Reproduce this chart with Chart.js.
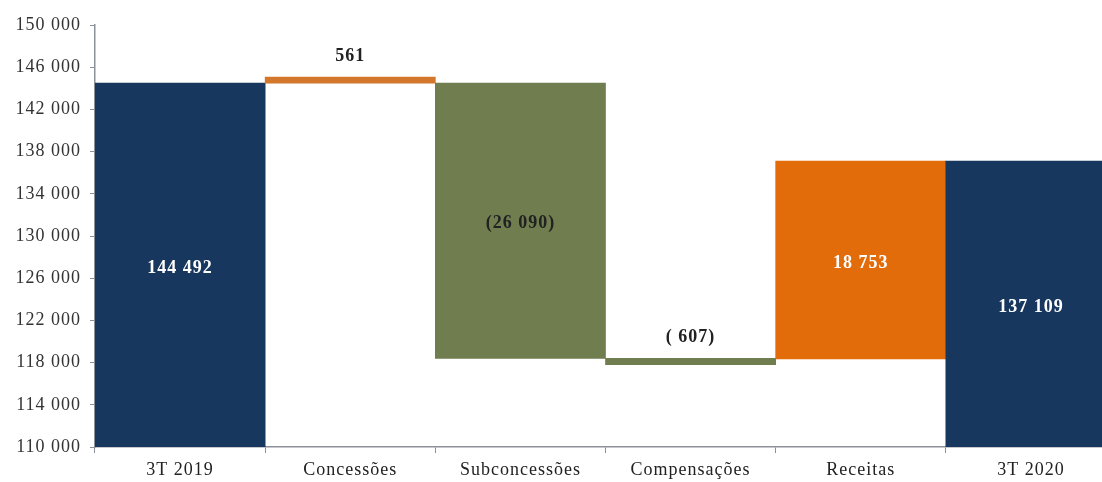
<!DOCTYPE html>
<html>
<head>
<meta charset="utf-8">
<script src="https://cdn.jsdelivr.net/npm/chart.js@4"></script>
<style>
    html, body { margin: 0; padding: 0; background: #ffffff; overflow: hidden; }
    #wrap { width: 1102px; height: 482px; overflow: hidden; }
</style>
</head>
<body>
<div id="wrap"><canvas id="bridgeChart" width="1116" height="482"></canvas></div>
<script>
// Bridge 3T 2019 -> 3T 2020
const categories = ['3T 2019', 'Concessões', 'Subconcessões', 'Compensações', 'Receitas', '3T 2020'];
const barLow  = [110000, 144492, 118402, 117795, 118356, 110000];
const barHigh = [144492, 145053, 144492, 118402, 137109, 137109];
const barLabels = ['144 492', '561', '(26 090)', '( 607)', '18 753', '137 109'];
const yMin = 110000;
const yMax = 150000;
const yStep = 4000;

const barColors = ['#17375e', '#d2772b', '#6f7d4f', '#6f7d4f', '#e36c0a', '#17375e'];
const labelColors = ['#ffffff', '#222222', '#222222', '#222222', '#ffffff', '#ffffff'];
const labelPlace = ['center', 'above', 'center', 'above', 'center', 'center'];

const serif = '"Liberation Serif", "Times New Roman", serif';
const axisColor = '#8c9098';

function fmt(v) {
    return String(v).replace(/\B(?=(\d{3})+(?!\d))/g, ' ');
}

// letter spacing for the stretched serif look
const spacingPlugin = {
    id: 'spacing',
    beforeDraw(chart) {
        chart.ctx.letterSpacing = '1px';
    }
};

// value labels on the bars
const barLabelPlugin = {
    id: 'barLabels',
    afterDatasetsDraw(chart) {
        const ctx = chart.ctx;
        const meta = chart.getDatasetMeta(0);
        ctx.save();
        ctx.letterSpacing = '1px';
        ctx.font = 'bold 18px ' + serif;
        ctx.textAlign = 'center';
        ctx.textBaseline = 'middle';
        meta.data.forEach((bar, i) => {
            const top = Math.min(bar.y, bar.base);
            const bottom = Math.max(bar.y, bar.base);
            let y = (top + bottom) / 2 + 3;
            if (labelPlace[i] === 'above') y = top - 21;
            ctx.fillStyle = labelColors[i];
            ctx.fillText(barLabels[i], bar.x, y);
        });
        ctx.restore();
    }
};

const ctx = document.getElementById('bridgeChart').getContext('2d');
new Chart(ctx, {
    type: 'bar',
    data: {
        labels: categories,
        datasets: [{
            data: barLow.map((lo, i) => [lo, barHigh[i]]),
            backgroundColor: barColors,
            borderWidth: 0,
            categoryPercentage: 1.0,
            barPercentage: 1.0
        }]
    },
    options: {
        responsive: false,
        animation: false,
        layout: { padding: { top: 25, left: 0, right: 0, bottom: 0 } },
        plugins: {
            legend: { display: false },
            tooltip: { enabled: false }
        },
        scales: {
            x: {
                afterFit(scale) { scale.height = 35; },
                grid: {
                    offset: true,
                    drawOnChartArea: false,
                    drawTicks: true,
                    tickLength: 6,
                    color: axisColor
                },
                border: { color: axisColor, width: 1.5 },
                ticks: {
                    color: '#222222',
                    padding: 6,
                    font: { family: serif, size: 18 }
                }
            },
            y: {
                min: yMin,
                max: yMax,
                afterFit(scale) { scale.width = 95; },
                grid: {
                    drawOnChartArea: false,
                    drawTicks: true,
                    tickLength: 5,
                    color: axisColor
                },
                border: { color: axisColor, width: 1.5 },
                ticks: {
                    stepSize: yStep,
                    color: '#333333',
                    padding: 9,
                    font: { family: serif, size: 18 },
                    callback: (v) => fmt(v)
                }
            }
        }
    },
    plugins: [spacingPlugin, barLabelPlugin]
});
</script>
</body>
</html>
